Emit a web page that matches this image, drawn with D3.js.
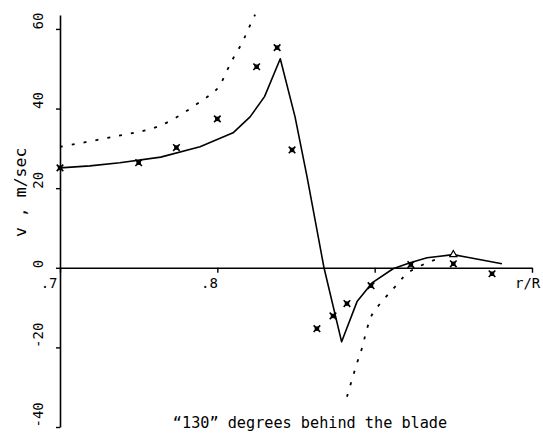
<!DOCTYPE html>
<html>
<head>
<meta charset="utf-8">
<script src="https://cdn.jsdelivr.net/npm/d3@7"></script>
<style>
  html, body { margin: 0; padding: 0; background: #fff; }
  svg { display: block; }
  text { font-family: "DejaVu Sans Mono", monospace; fill: #000; }
</style>
</head>
<body>
<svg id="chart" width="543" height="434"></svg>
<script>
// Axis ticks
const xTicks = [0.7, 0.8, 0.9, 1.0];
const xTickLabels = [".7", ".8", "", ""];
const yTicks = [60, 40, 20, 0, -20, -40];

// Measured velocities (markers)
const measR = [0.700, 0.750, 0.774, 0.800, 0.825, 0.838, 0.8475, 0.8633, 0.8735, 0.8824, 0.8977, 0.923, 0.950, 0.9746];
const measV = [25.1, 26.4, 30.2, 37.4, 50.5, 55.3, 29.6, -15.3, -12.1, -9.0, -4.5, 0.8, 1.0, -1.5];

// Open marker at the crest of the computed curve
const openR = [0.950];
const openV = [3.3];

// Computed velocity (solid line)
const calcR = [0.700, 0.719, 0.738, 0.764, 0.789, 0.810, 0.8208, 0.830, 0.840, 0.8494, 0.857, 0.8678, 0.879, 0.8888, 0.8983, 0.9117, 0.9225, 0.9333, 0.950, 0.9606, 0.9809];
const calcV = [25.1, 25.6, 26.4, 27.8, 30.4, 33.9, 37.9, 43.0, 52.5, 37.9, 22.9, 0.0, -18.6, -8.5, -3.8, -0.25, 1.26, 2.5, 3.3, 2.5, 1.0];

// Theoretical velocity, inner branch (dotted)
const theoR1 = [0.700, 0.7337, 0.7636, 0.7909, 0.8004, 0.8061, 0.8106, 0.8157, 0.8195, 0.824];
const theoV1 = [30.4, 32.9, 35.7, 42.2, 45.2, 49.5, 53.0, 56.5, 59.8, 63.6];

// Theoretical velocity, outer branch (dotted)
const theoR2 = [0.8824, 0.8888, 0.892, 0.8945, 0.8983, 0.9072, 0.9136, 0.9212, 0.9366, 0.9415];
const theoV2 = [-32.4, -23.9, -20.1, -16.3, -11.8, -7.3, -4.5, -1.26, 1.76, 2.3];

const svg = d3.select("#chart");
svg.append("rect").attr("width", 543).attr("height", 434).attr("fill", "#fff");

const x = d3.scaleLinear().domain([0.7, 1.0]).range([60, 532]);
const y = d3.scaleLinear().domain([-40, 63.5]).range([427, 15]);

const zip = (a, b) => a.map((d, i) => [d, b[i]]);

// y axis
const yAxis = svg.append("g")
  .attr("transform", `translate(${x(0.7)},0)`)
  .call(d3.axisLeft(y).tickValues(yTicks).tickSize(4).tickSizeOuter(0).tickFormat(d3.format("d")));
yAxis.select(".domain").attr("stroke", "#000").attr("stroke-width", 1.6);
yAxis.selectAll(".tick line").attr("stroke", "#000").attr("stroke-width", 1.4);
yAxis.selectAll(".tick text")
  .attr("x", 0).attr("dy", 0)
  .attr("text-anchor", "start")
  .attr("transform", "translate(-17,0) rotate(-90)")
  .style("font-size", "14px")
  .style("font-family", "DejaVu Sans Mono, monospace")
  .text(d => d3.format("d")(d).replace("\u2212", "-"));

// x axis along v = 0
const xAxis = svg.append("g")
  .attr("transform", `translate(0,${y(0)})`)
  .call(d3.axisBottom(x).tickValues(xTicks).tickSize(5).tickSizeOuter(0).tickFormat((d, i) => xTickLabels[i]));
xAxis.select(".domain").attr("stroke", "#000").attr("stroke-width", 1.6);
xAxis.selectAll(".tick line").attr("stroke", "#000").attr("stroke-width", 1.4);
xAxis.selectAll(".tick text")
  .attr("y", 0).attr("dy", 20)
  .attr("text-anchor", "end")
  .attr("dx", (d, i) => i === 0 ? -3 : 0)
  .style("font-size", "14px")
  .style("font-family", "DejaVu Sans Mono, monospace");

// axis titles
svg.append("text")
  .attr("x", x(1.0) - 17).attr("y", y(0) + 20)
  .style("font-size", "14px")
  .text("r/R");

svg.append("text")
  .attr("transform", `translate(26,237) rotate(-90)`)
  .attr("text-anchor", "start")
  .style("font-size", "16.5px")
  .text("v , m/sec");

svg.append("text")
  .attr("x", 310).attr("y", 428)
  .attr("text-anchor", "middle")
  .style("font-size", "15.2px")
  .text("\u201c130\u201d degrees behind the blade");

// curves
const line = d3.line().x(d => x(d[0])).y(d => y(d[1]));
const smooth = d3.line().x(d => x(d[0])).y(d => y(d[1])).curve(d3.curveCatmullRom);

svg.append("path")
  .attr("d", line(zip(calcR, calcV)))
  .attr("fill", "none").attr("stroke", "#000").attr("stroke-width", 1.6)
  .attr("stroke-linejoin", "round");

[zip(theoR1, theoV1), zip(theoR2, theoV2)].forEach(pts => {
  svg.append("path")
    .attr("d", smooth(pts))
    .attr("fill", "none").attr("stroke", "#000").attr("stroke-width", 1.8)
    .attr("stroke-dasharray", "3,9");
});

// measured markers: small solid box with a cross through it
const box = d3.symbol().type(d3.symbolSquare).size(20);
const cross = d3.symbol().type(d3.symbolX).size(30);
const mk = svg.append("g").selectAll("g")
  .data(zip(measR, measV))
  .join("g")
  .attr("transform", d => `translate(${x(d[0])},${y(d[1])})`);
mk.append("path").attr("d", box).attr("fill", "#000");
mk.append("path").attr("d", cross).attr("fill", "none").attr("stroke", "#000").attr("stroke-width", 1.6);

const tri = d3.symbol().type(d3.symbolTriangle).size(22);
svg.append("g").selectAll("path")
  .data(zip(openR, openV))
  .join("path")
  .attr("transform", d => `translate(${x(d[0])},${y(d[1])})`)
  .attr("d", tri)
  .attr("fill", "#fff").attr("stroke", "#000").attr("stroke-width", 1.2);
</script>
</body>
</html>
